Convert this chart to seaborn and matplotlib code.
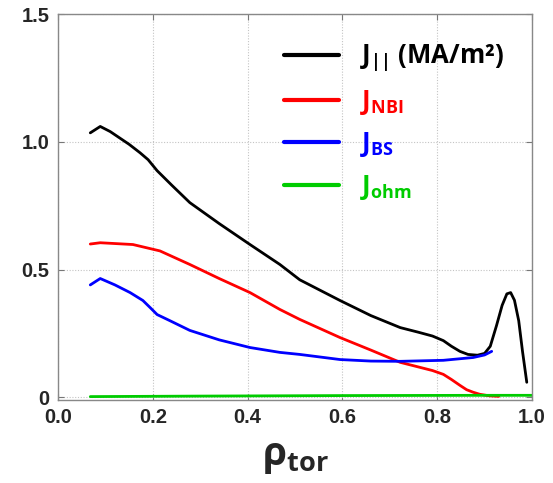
import matplotlib
matplotlib.use('Agg')
import matplotlib.pyplot as plt
import seaborn as sns
import pandas as pd

# current density profiles vs rho_tor
rho_par = [0.068, 0.089, 0.11, 0.13, 0.15, 0.173, 0.19, 0.209, 0.24, 0.278, 0.34, 0.405, 0.468,
           0.51, 0.595, 0.66, 0.722, 0.76, 0.79, 0.813, 0.83, 0.848, 0.865, 0.885, 0.9, 0.912,
           0.925, 0.937, 0.947, 0.955, 0.963, 0.972, 0.98, 0.989]
j_par = [1.035, 1.06, 1.04, 1.015, 0.99, 0.957, 0.93, 0.887, 0.83, 0.762, 0.68, 0.598, 0.52,
         0.46, 0.379, 0.32, 0.273, 0.255, 0.24, 0.222, 0.2, 0.18, 0.168, 0.165, 0.172, 0.2,
         0.28, 0.36, 0.405, 0.41, 0.38, 0.3, 0.18, 0.059]

rho_nbi = [0.068, 0.089, 0.158, 0.215, 0.278, 0.34, 0.405, 0.468, 0.51, 0.595, 0.66, 0.722,
           0.79, 0.813, 0.83, 0.848, 0.862, 0.876, 0.89, 0.91, 0.93]
j_nbi = [0.60, 0.605, 0.598, 0.573, 0.52, 0.465, 0.41, 0.344, 0.305, 0.234, 0.185, 0.137,
         0.105, 0.09, 0.07, 0.047, 0.03, 0.02, 0.012, 0.006, 0.004]

rho_bs = [0.068, 0.089, 0.12, 0.152, 0.179, 0.195, 0.209, 0.236, 0.278, 0.34, 0.405, 0.468,
          0.51, 0.595, 0.66, 0.722, 0.813, 0.876, 0.9, 0.915]
j_bs = [0.44, 0.465, 0.44, 0.41, 0.379, 0.35, 0.324, 0.30, 0.262, 0.225, 0.195, 0.176,
        0.168, 0.148, 0.142, 0.141, 0.145, 0.156, 0.166, 0.18]

rho_ohm = [0.068, 0.3, 0.6, 0.9, 1.0]
j_ohm = [0.003, 0.005, 0.007, 0.008, 0.008]

sns.set_style('ticks')
plt.rcParams['mathtext.fontset'] = 'custom'
plt.rcParams['mathtext.rm'] = 'Open Sans:bold'
plt.rcParams['mathtext.it'] = 'Open Sans:bold'
plt.rcParams['mathtext.bf'] = 'Open Sans:bold'

fig = plt.figure(figsize=(5.53, 4.83), dpi=100)
ax = fig.add_axes([0.105, 0.172, 0.857, 0.799])

series = [
    (rho_par, j_par, 'black', r'$\mathrm{J_{||}}$ (MA/m²)'),
    (rho_nbi, j_nbi, 'red', r'$\mathrm{J_{NBI}}$'),
    (rho_bs, j_bs, 'blue', r'$\mathrm{J_{BS}}$'),
    (rho_ohm, j_ohm, '#00cc00', r'$\mathrm{J_{ohm}}$'),
]
for x, y, c, lab in series:
    df = pd.DataFrame({'rho': x, 'j': y})
    sns.lineplot(data=df, x='rho', y='j', color=c, lw=2, label=lab, ax=ax)

ax.set_xlim(0, 1.0)
ax.set_ylim(-0.01, 1.5)
ax.set_xticks([0, 0.2, 0.4, 0.6, 0.8, 1.0])
ax.set_xticklabels(['0.0', '0.2', '0.4', '0.6', '0.8', '1.0'])
ax.set_yticks([0, 0.5, 1.0, 1.5])
ax.set_yticklabels(['0', '0.5', '1.0', '1.5'])
for t in ax.get_xticklabels() + ax.get_yticklabels():
    t.set_fontfamily('Liberation Sans')
    t.set_fontweight('bold')
    t.set_fontsize(14.5)
ax.tick_params(direction='in', top=True, right=True, length=4, color='#777777', pad=6)
ax.grid(True, ls=(0, (1, 1.5)), color='#c4c4c4', lw=0.8)
for s in ax.spines.values():
    s.set_color('#888888')
    s.set_linewidth(1.0)

ax.set_xlabel(r'$\mathrm{\rho_{tor}}$', fontsize=28, labelpad=8)
ax.set_ylabel('')

leg = ax.legend(loc='upper left', bbox_to_anchor=(0.477, 0.925), frameon=False,
                borderpad=0, borderaxespad=0,
                handlelength=2.15, handletextpad=0.8, labelspacing=0.52,
                labelcolor='linecolor', prop={'family': 'Open Sans', 'weight': 'bold', 'size': 18.5})
for h in leg.get_lines():
    h.set_linewidth(3)

fig.savefig('out.png', dpi=100)
